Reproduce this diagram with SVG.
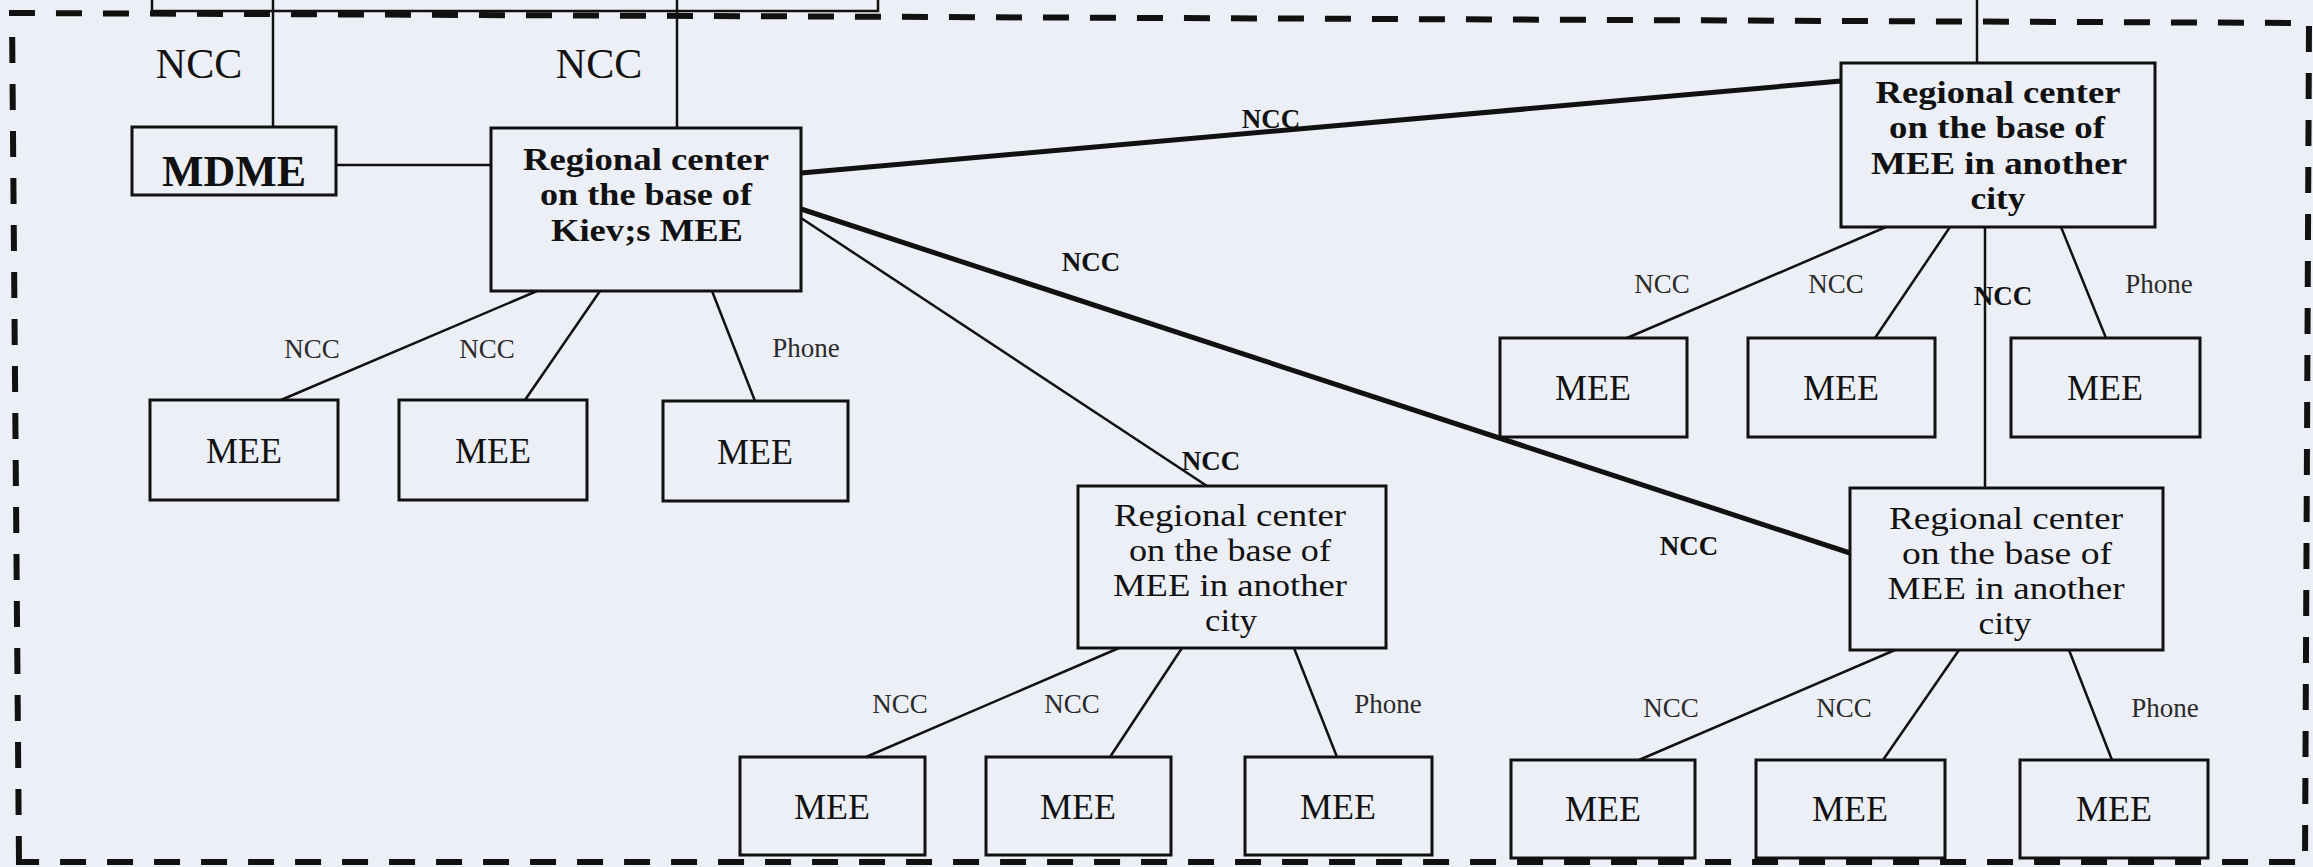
<svg xmlns="http://www.w3.org/2000/svg" width="2313" height="867" viewBox="0 0 2313 867">
<style>
.box{fill:none;stroke:#111;stroke-width:3}
.ln{stroke:#111;stroke-width:2.5;fill:none}
.thick{stroke:#111;stroke-width:5;fill:none}
.t{font-family:"Liberation Serif","Times New Roman",serif;fill:#111;text-anchor:middle}
.b{font-weight:bold}
.big{font-size:31px}
.mee{font-size:36px}
.lbl{font-size:27px;fill:#2a2a2a}
.bl{font-size:27px;font-weight:bold}
.frame{fill:none;stroke:#111;stroke-width:6;stroke-dasharray:26 21}
</style>
<rect width="2313" height="867" fill="#eceff5"/>
<path class="frame" d="M19,862 L12,13 L2309,23 L2305,862 Z"/>
<g id="connectors">
<path class="ln" stroke-width="3" d="M152,0 V11 H878 V0"/>
<path class="ln" d="M273,0 V128"/>
<path class="ln" d="M677,0 V128"/>
<path class="ln" d="M1977,0 V63"/>
<path class="ln" d="M336,165 H491"/>
<path class="ln" stroke-width="3" d="M537,291 L281,400"/>
<path class="ln" d="M600,291 L525,400"/>
<path class="ln" stroke-width="2" d="M712,291 L755,401"/>
<path class="thick" d="M801,173 L1841,81"/>
<path class="thick" d="M801,209 L1850,553"/>
<path class="ln" d="M801,218 L1207,486"/>
<path class="ln" stroke-width="4" d="M1985,227 V488"/>
<path class="ln" d="M1886,227 L1627,338"/>
<path class="ln" d="M1950,227 L1875,338"/>
<path class="ln" stroke-width="2" d="M2061,227 L2106,338"/>
<path class="ln" d="M1119,648 L866,757"/>
<path class="ln" d="M1182,648 L1110,757"/>
<path class="ln" stroke-width="2" d="M1294,648 L1337,757"/>
<path class="ln" d="M1895,650 L1639,760"/>
<path class="ln" d="M1959,650 L1883,760"/>
<path class="ln" stroke-width="2" d="M2069,650 L2112,760"/>
</g>
<g id="labels">
<text class="t" font-size="42" x="199" y="78">NCC</text>
<text class="t" font-size="42" x="599" y="78">NCC</text>
<text class="t lbl" x="312" y="358">NCC</text>
<text class="t lbl" x="487" y="358">NCC</text>
<text class="t lbl" x="806" y="357">Phone</text>
<text class="t bl" x="1271" y="128">NCC</text>
<text class="t bl" x="1091" y="271">NCC</text>
<text class="t bl" x="1211" y="470">NCC</text>
<text class="t bl" x="1689" y="555">NCC</text>
<text class="t bl" x="2003" y="305">NCC</text>
<text class="t lbl" x="1662" y="293">NCC</text>
<text class="t lbl" x="1836" y="293">NCC</text>
<text class="t lbl" x="2159" y="293">Phone</text>
<text class="t lbl" x="900" y="713">NCC</text>
<text class="t lbl" x="1072" y="713">NCC</text>
<text class="t lbl" x="1388" y="713">Phone</text>
<text class="t lbl" x="1671" y="717">NCC</text>
<text class="t lbl" x="1844" y="717">NCC</text>
<text class="t lbl" x="2165" y="717">Phone</text>
</g>
<g id="mdme">
<rect class="box" stroke-width="3.5" x="132" y="127" width="204" height="68"/>
<text class="t b" font-size="44" x="234" y="186">MDME</text>
</g>
<g id="kiev-center">
<rect class="box" x="491" y="128" width="310" height="163"/>
<text class="t b big" x="646" y="170" textLength="246" lengthAdjust="spacingAndGlyphs">Regional center</text>
<text class="t b big" x="646" y="205" textLength="212" lengthAdjust="spacingAndGlyphs">on the base of</text>
<text class="t b big" x="647" y="241" textLength="192" lengthAdjust="spacingAndGlyphs">Kiev;s MEE</text>
</g>
<g id="kiev-mee1"><rect class="box" x="150" y="400" width="188" height="100"/><text class="t mee" x="244" y="463">MEE</text></g>
<g id="kiev-mee2"><rect class="box" x="399" y="400" width="188" height="100"/><text class="t mee" x="493" y="463">MEE</text></g>
<g id="kiev-mee3"><rect class="box" x="663" y="401" width="185" height="100"/><text class="t mee" x="755" y="464">MEE</text></g>
<g id="tr-center">
<rect class="box" x="1841" y="63" width="314" height="164"/>
<text class="t b big" x="1998" y="103" textLength="245" lengthAdjust="spacingAndGlyphs">Regional center</text>
<text class="t b big" x="1997" y="138" textLength="216" lengthAdjust="spacingAndGlyphs">on the base of</text>
<text class="t b big" x="1999" y="174" textLength="256" lengthAdjust="spacingAndGlyphs">MEE in another</text>
<text class="t b big" x="1998" y="209" textLength="55" lengthAdjust="spacingAndGlyphs">city</text>
</g>
<g id="tr-mee1"><rect class="box" x="1500" y="338" width="187" height="99"/><text class="t mee" x="1593" y="400">MEE</text></g>
<g id="tr-mee2"><rect class="box" x="1748" y="338" width="187" height="99"/><text class="t mee" x="1841" y="400">MEE</text></g>
<g id="tr-mee3"><rect class="box" x="2011" y="338" width="189" height="99"/><text class="t mee" x="2105" y="400">MEE</text></g>
<g id="bm-center">
<rect class="box" x="1078" y="486" width="308" height="162"/>
<text class="t big" x="1230" y="526" textLength="232" lengthAdjust="spacingAndGlyphs">Regional center</text>
<text class="t big" x="1230" y="561" textLength="202" lengthAdjust="spacingAndGlyphs">on the base of</text>
<text class="t big" x="1230" y="596" textLength="234" lengthAdjust="spacingAndGlyphs">MEE in another</text>
<text class="t big" x="1231" y="631" textLength="52" lengthAdjust="spacingAndGlyphs">city</text>
</g>
<g id="bm-mee1"><rect class="box" x="740" y="757" width="185" height="98"/><text class="t mee" x="832" y="819">MEE</text></g>
<g id="bm-mee2"><rect class="box" x="986" y="757" width="185" height="98"/><text class="t mee" x="1078" y="819">MEE</text></g>
<g id="bm-mee3"><rect class="box" x="1245" y="757" width="187" height="98"/><text class="t mee" x="1338" y="819">MEE</text></g>
<g id="br-center">
<rect class="box" x="1850" y="488" width="313" height="162"/>
<text class="t big" x="2006" y="529" textLength="234" lengthAdjust="spacingAndGlyphs">Regional center</text>
<text class="t big" x="2007" y="564" textLength="210" lengthAdjust="spacingAndGlyphs">on the base of</text>
<text class="t big" x="2006" y="599" textLength="237" lengthAdjust="spacingAndGlyphs">MEE in another</text>
<text class="t big" x="2005" y="634" textLength="53" lengthAdjust="spacingAndGlyphs">city</text>
</g>
<g id="br-mee1"><rect class="box" x="1511" y="760" width="184" height="98"/><text class="t mee" x="1603" y="821">MEE</text></g>
<g id="br-mee2"><rect class="box" x="1756" y="760" width="189" height="98"/><text class="t mee" x="1850" y="821">MEE</text></g>
<g id="br-mee3"><rect class="box" x="2020" y="760" width="188" height="98"/><text class="t mee" x="2114" y="821">MEE</text></g>
</svg>
